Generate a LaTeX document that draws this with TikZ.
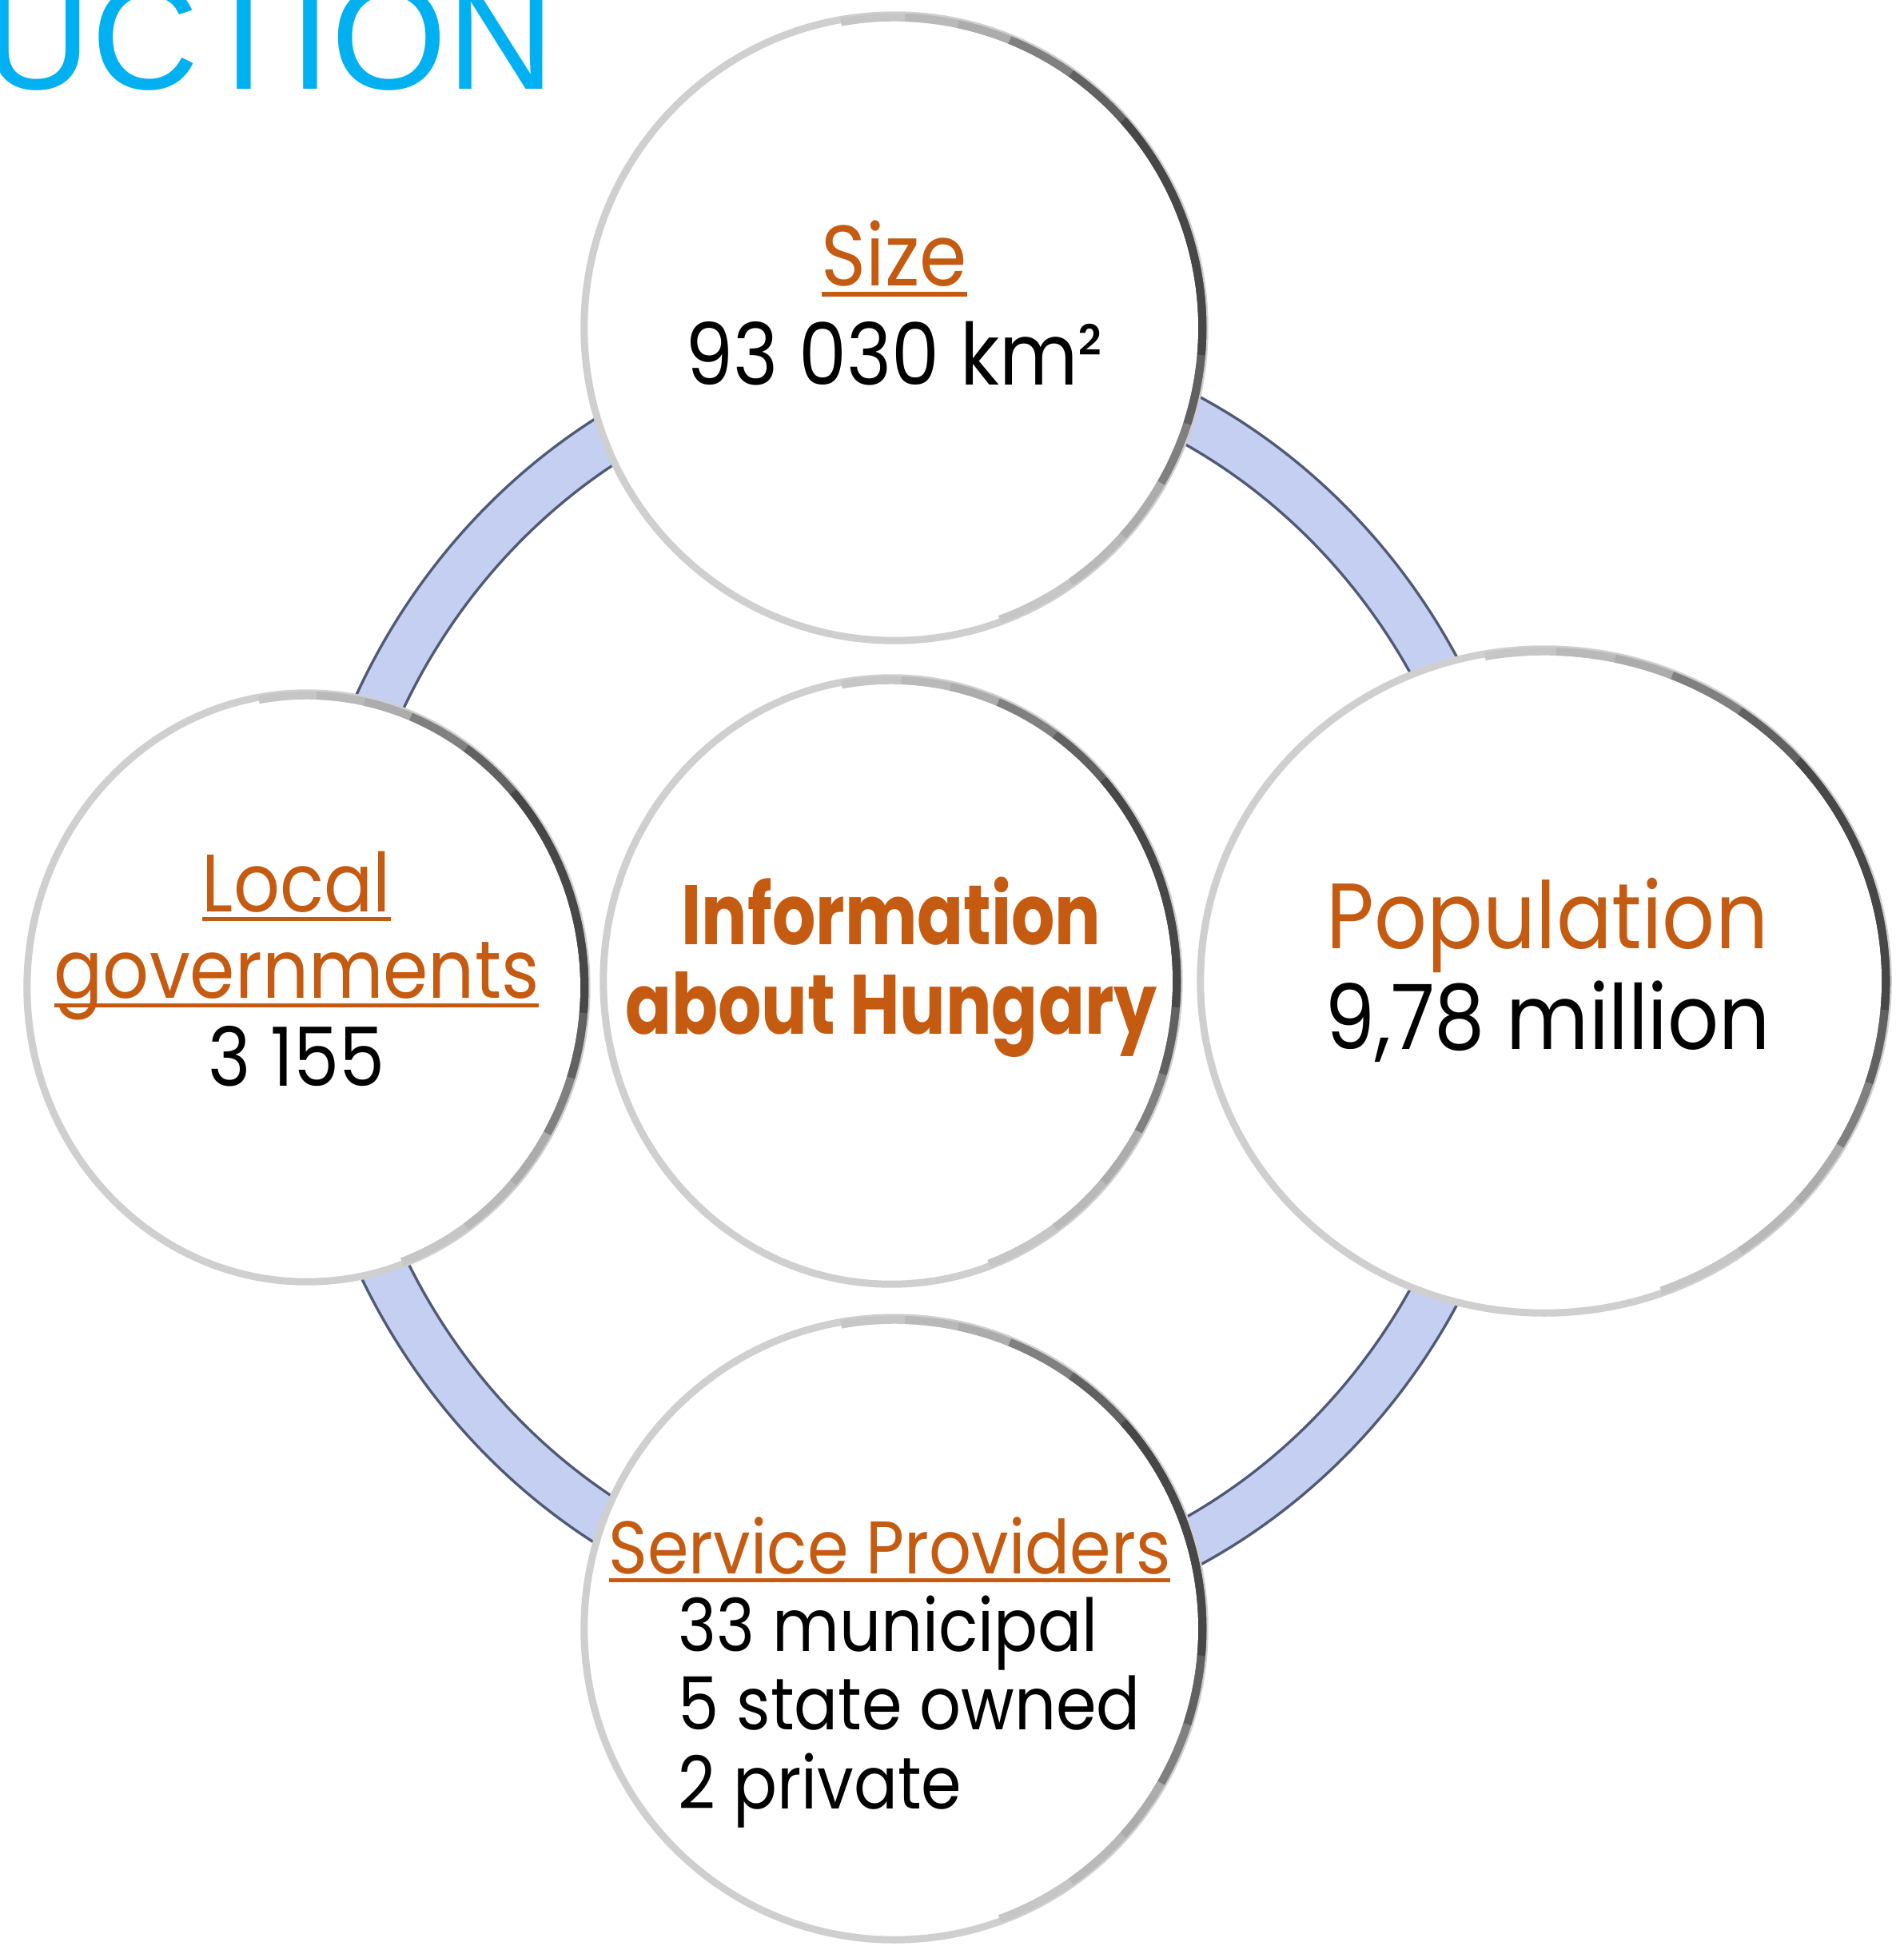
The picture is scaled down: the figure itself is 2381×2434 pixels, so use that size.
\documentclass[tikz,border=0pt]{standalone}
\usepackage{fontspec}
\setmainfont{Poppins}[FakeStretch=0.89, BoldFeatures={FakeStretch=0.81}]
\newfontfamily\titlefont{Liberation Sans}
\usetikzlibrary{shapes.geometric, positioning}
\definecolor{hunorange}{RGB}{197,90,17}
\definecolor{titleblue}{RGB}{0,176,240}
\definecolor{ringfill}{RGB}{197,207,242}
\definecolor{ringedge}{RGB}{80,90,116}
\newsavebox{\ulbox}
\newcommand{\ulword}[1]{\sbox{\ulbox}{#1}\rlap{\rule[-0.12em]{\wd\ulbox}{0.055em}}\usebox{\ulbox}}

\begin{document}
\begin{tikzpicture}[x=0.01cm, y=-0.01cm,
    bubble/.style={ellipse, fill=white, draw=gray!38, line width=0.09cm, inner sep=0pt},
    rimshade/.style={line width=0.10cm},
    head/.style={text=hunorange, inner sep=0pt, anchor=base},
    figs/.style={text=black, inner sep=0pt, anchor=base}]
    \useasboundingbox (0,0) rectangle (2381,2434);

    % title, cut by the frame
    \node[anchor=base west, inner sep=0pt, text=titleblue, font=\titlefont\fontsize{53}{53}\selectfont] (title) at (-21,112) {UCTION};

    % ring behind the bubbles
    \draw[ringedge, line width=0.64cm] (1146,1227) ellipse [x radius=7.47cm, y radius=7.90cm];
    \draw[ringfill, line width=0.57cm] (1146,1227) ellipse [x radius=7.47cm, y radius=7.90cm];

    \node[bubble, minimum width=7.76cm, minimum height=7.82cm] (size) at (1119,410) {};
    \node[bubble, minimum width=7.00cm, minimum height=7.36cm] (local) at (384,1235) {};
    \node[bubble, minimum width=7.20cm, minimum height=7.58cm] (info) at (1115,1227) {};
    \node[bubble, minimum width=8.60cm, minimum height=8.30cm] (pop) at (1932,1227) {};
    \node[bubble, minimum width=7.76cm, minimum height=7.78cm] (serv) at (1119,2037) {};

    % darker rim on the right of each bubble
    \foreach \n/\rx/\ry in {size/3.85/3.88, local/3.47/3.65, info/3.57/3.76, pop/4.27/4.12, serv/3.85/3.86} {
        \foreach \s/\e/\c in {100/-70/gray!45, 88/-55/gray!55, 78/-42/gray!65, 68/-30/black!50, 55/-18/black!62, 42/-5/black!72} {
            \draw[rimshade, \c] ([shift={(\s:\rx cm and \ry cm)}]\n.center) arc[start angle=\s, end angle=\e, x radius=\rx cm, y radius=\ry cm];
        }
    }

    % texts
    \node[head, font=\fontsize{30.5}{35}\selectfont] (sizehead) at (1119,358) {\ulword{Size}};
    \node[figs, font=\fontsize{30.5}{35}\selectfont] (sizefig) at (1119,482) {93 030 km²};

    \node[head, font=\fontsize{29}{31}\selectfont] (localhead) at (371,1140) {\ulword{Local}};
    \node[head, font=\fontsize{29}{31}\selectfont] (localhead2) at (371,1248) {\ulword{governments}};
    \node[figs, font=\fontsize{29}{31}\selectfont] (localfig) at (371,1358) {3 155};

    \node[head, font=\bfseries\fontsize{30}{32}\selectfont] (infohead) at (1115,1181) {Information};
    \node[head, font=\bfseries\fontsize{30}{32}\selectfont] (infohead2) at (1115,1293) {about Hungary};

    \node[head, font=\fontsize{33}{36}\selectfont] (pophead) at (1936,1186) {Population};
    \node[figs, font=\fontsize{32}{36}\selectfont] (popfig) at (1936,1312) {9,78 million};

    \node[head, font=\fontsize{26.5}{31}\selectfont] (servhead) at (1113,1968) {\ulword{Service Providers}};
    \node[figs, anchor=base west, align=left, font=\fontsize{26}{27.9}\selectfont] (servfig) at (848,2262) {33 municipal\\5 state owned\\2 private};
\end{tikzpicture}
\end{document}
